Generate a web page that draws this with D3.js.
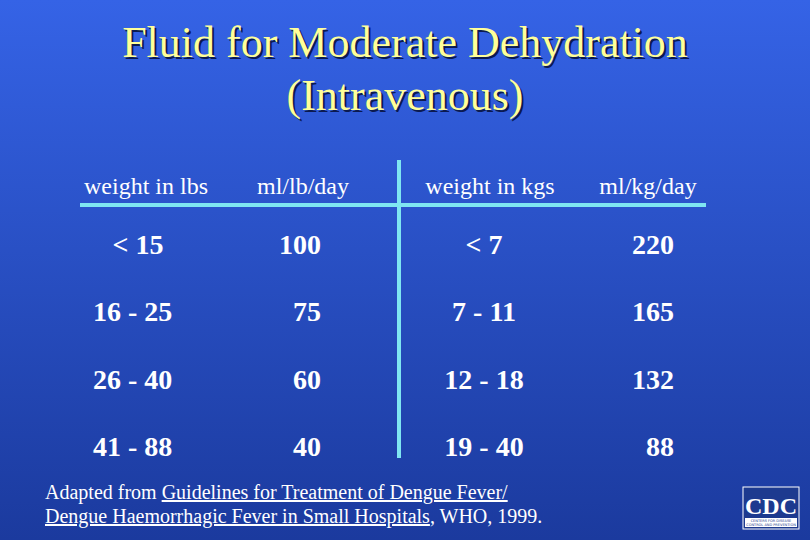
<!DOCTYPE html>
<html><head><meta charset="utf-8">
<script src="https://cdn.jsdelivr.net/npm/d3@7"></script>
<style>body{margin:0;overflow:hidden}</style>
</head><body><div id="vis"></div>
<script>
const W = 810, H = 540;
const headers = ["weight in lbs", "ml/lb/day", "weight in kgs", "ml/kg/day"];
const lbs = ["< 15", "16 - 25", "26 - 40", "41 - 88"];
const mlPerLb = ["100", "75", "60", "40"];
const kgs = ["< 7", "7 - 11", "12 - 18", "19 - 40"];
const mlPerKg = ["220", "165", "132", "88"];

const svg = d3.select("#vis").append("svg").attr("width", W).attr("height", H);
const defs = svg.append("defs");
const g = defs.append("linearGradient").attr("id", "bg").attr("x1", 0).attr("y1", 0).attr("x2", 0).attr("y2", 1);
g.append("stop").attr("offset", 0).attr("stop-color", "#3563e6");
g.append("stop").attr("offset", 1).attr("stop-color", "#1b3a9e");
svg.append("rect").attr("width", W).attr("height", H).attr("fill", "url(#bg)");

const serif = "'Liberation Serif','Times New Roman',serif";

// title, shadow via css
[["Fluid for Moderate Dehydration", 57], ["(Intravenous)", 110]].forEach(([t, y]) => {
  svg.append("text").attr("x", 405).attr("y", y).attr("text-anchor", "middle")
    .attr("font-family", serif).attr("font-size", 44).attr("fill", "#ffff99")
    .style("text-shadow", "2px 2px 0 #0b1a50").text(t);
});

// rules
const cyan = "#7fe6f2";
svg.append("line").attr("x1", 80).attr("x2", 706).attr("y1", 205).attr("y2", 205)
  .attr("stroke", cyan).attr("stroke-width", 4);
svg.append("line").attr("x1", 399).attr("x2", 399).attr("y1", 160).attr("y2", 458)
  .attr("stroke", cyan).attr("stroke-width", 4);

// headers
const headX = [146, 303, 490, 648];
svg.selectAll(".h").data(headers).join("text")
  .attr("x", (d, i) => headX[i]).attr("y", 194).attr("text-anchor", "middle")
  .attr("font-family", serif).attr("font-size", 24).attr("fill", "white").text(d => d);

// body rows
const y = d3.scalePoint().domain(d3.range(4)).range([254, 456]);
const cols = [
  { vals: lbs, x: (i) => i ? 93 : 138, a: (i) => i ? "start" : "middle" },
  { vals: mlPerLb, x: (i) => i ? 293 : 300, a: (i) => i ? "start" : "middle" },
  { vals: kgs, x: () => 484, a: () => "middle" },
  { vals: mlPerKg, x: () => 674, a: () => "end" }
];
cols.forEach(c => {
  svg.append("g").selectAll("text").data(c.vals).join("text")
    .attr("x", (d, i) => c.x(i)).attr("y", (d, i) => y(i))
    .attr("text-anchor", (d, i) => c.a(i))
    .attr("font-family", serif).attr("font-size", 28).attr("font-weight", "bold")
    .attr("fill", "white").text(d => d);
});

// footer
const f1 = svg.append("text").attr("x", 45).attr("y", 499).attr("font-family", serif)
  .attr("font-size", 20).attr("fill", "white");
f1.append("tspan").text("Adapted from ");
f1.append("tspan").attr("text-decoration", "underline").text("Guidelines for Treatment of Dengue Fever/");
const f2 = svg.append("text").attr("x", 45).attr("y", 523).attr("font-family", serif)
  .attr("font-size", 20).attr("fill", "white");
f2.append("tspan").attr("text-decoration", "underline").text("Dengue Haemorrhagic Fever in Small Hospitals");
f2.append("tspan").text(", WHO, 1999.");

// CDC logo
const logo = svg.append("g").attr("transform", "translate(743,487)");
logo.append("rect").attr("width", 56).attr("height", 42).attr("fill", "#1d3a8f").attr("stroke", "white").attr("stroke-width", 1);
logo.append("text").attr("x", 28).attr("y", 27).attr("text-anchor", "middle").attr("font-family", serif)
  .attr("font-weight", "bold").attr("font-size", 24).attr("fill", "white").text("CDC");
logo.append("rect").attr("x", 2).attr("y", 31).attr("width", 52).attr("height", 9).attr("fill", "white");
logo.append("text").attr("x", 28).attr("y", 35).attr("text-anchor", "middle").attr("font-family", "DejaVu Sans")
  .attr("font-size", 3.5).attr("fill", "#1d3a8f").text("CENTERS FOR DISEASE");
logo.append("text").attr("x", 28).attr("y", 39).attr("text-anchor", "middle").attr("font-family", "DejaVu Sans")
  .attr("font-size", 3.5).attr("fill", "#1d3a8f").text("CONTROL AND PREVENTION");
</script></body></html>
